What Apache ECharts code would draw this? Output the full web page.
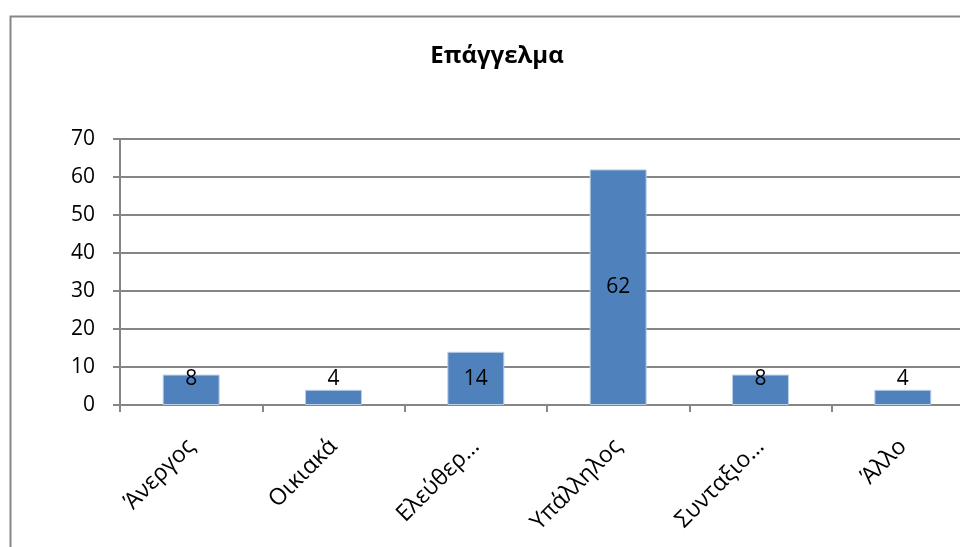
<!DOCTYPE html>
<html>
<head>
<meta charset="utf-8">
<script src="https://cdn.jsdelivr.net/npm/echarts@6/dist/echarts.min.js"></script>
<style>
  html, body { margin: 0; padding: 0; background: #fff; }
  #chart { width: 960px; height: 547px; }
</style>
</head>
<body>
<div id="chart"></div>
<script>
const titleText = 'Επάγγελμα';
const categories = ['Άνεργος', 'Οικιακά', 'Ελεύθερ…', 'Υπάλληλος', 'Συνταξιο…', 'Άλλο'];
const counts = [8, 4, 14, 62, 8, 4];

const font = '"Open Sans", "Noto Sans", sans-serif';
const gray = '#868686';

// small bars: Excel pushes the label up so it sits above the axis
const barData = counts.map(v => ({
  value: v,
  label: v < 20
    ? { position: 'insideBottom', distance: 15 }
    : { position: 'inside' }
}));

const myChart = echarts.init(document.getElementById('chart'));
myChart.setOption({
  backgroundColor: '#fff',
  animation: false,
  textStyle: { fontFamily: font },
  title: {
    text: titleText,
    left: 492,
    top: 39,
    textAlign: 'center',
    textStyle: { fontFamily: font, fontWeight: 'bold', fontSize: 24, color: '#000' }
  },
  graphic: [{
    type: 'rect',
    left: 8,
    top: 14,
    shape: { width: 1000, height: 600 },
    style: { fill: 'none', stroke: gray, lineWidth: 2 },
    silent: true,
    z: -1
  }],
  // plot area runs past the right edge of the picture, as in the original
  grid: {
    left: 120, top: 139, width: 854, height: 266,
    containLabel: false,
    outerBoundsMode: 'none'
  },
  xAxis: {
    type: 'category',
    data: categories,
    axisLine: { lineStyle: { color: gray, width: 2 } },
    axisTick: { show: true, length: 7, lineStyle: { color: gray, width: 2 } },
    axisLabel: {
      rotate: 45,
      margin: 38,
      color: '#000',
      fontSize: 23,
      fontFamily: font,
      interval: 0
    }
  },
  yAxis: {
    type: 'value',
    min: 0,
    max: 70,
    interval: 10,
    axisLine: { show: true, lineStyle: { color: gray, width: 2 } },
    axisTick: { show: true, length: 7, lineStyle: { color: gray, width: 2 } },
    splitLine: { lineStyle: { color: gray, width: 2 } },
    axisLabel: { color: '#000', fontSize: 21, fontFamily: font, margin: 25 }
  },
  series: [{
    type: 'bar',
    data: barData,
    barWidth: '40%',
    itemStyle: { color: '#4f81bd', borderColor: '#b9cde5', borderWidth: 1 },
    label: { show: true, color: '#000', fontSize: 21, fontFamily: font }
  }]
});
window.addEventListener('resize', () => myChart.resize());
</script>
</body>
</html>
